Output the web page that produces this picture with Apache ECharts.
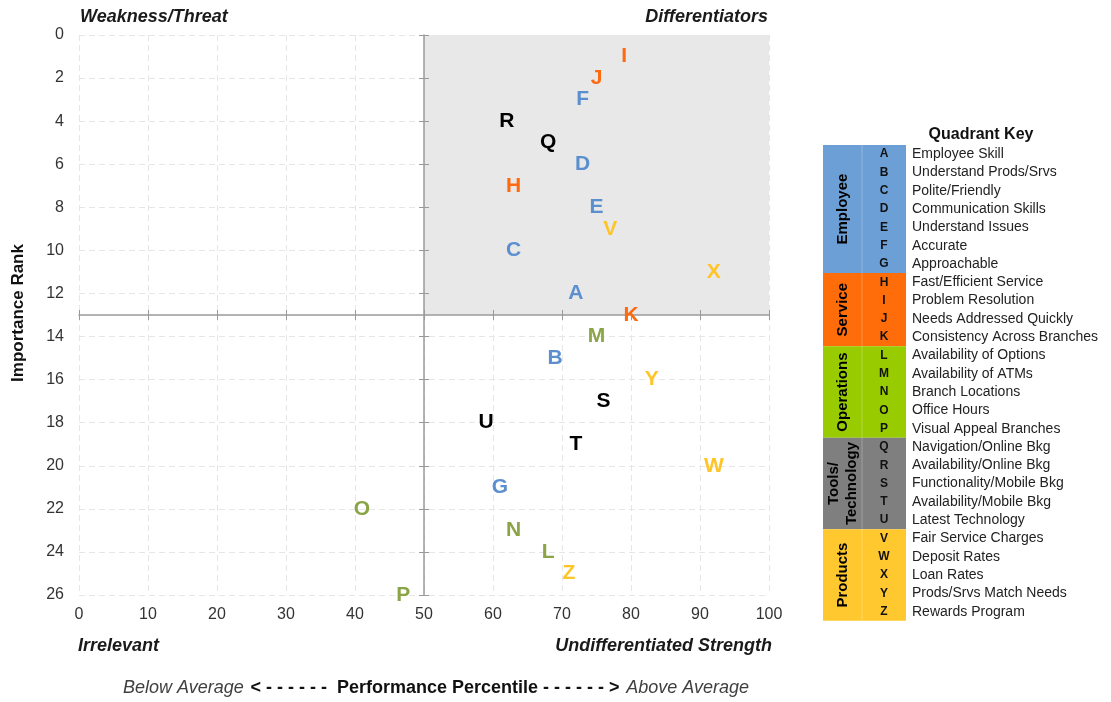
<!DOCTYPE html>
<html><head><meta charset="utf-8">
<script src="https://cdn.jsdelivr.net/npm/echarts@6/dist/echarts.min.js"></script>
<style>html,body{margin:0;padding:0;background:#fff}#c{width:1111px;height:702px}</style>
</head><body><div id="c"></div>
<script>
// ---------- data ----------
const letters = ['A','B','C','D','E','F','G','H','I','J','K','L','M','N','O','P','Q','R','S','T','U','V','W','X','Y','Z'];
const performance = [72,69,63,73,75,73,61,63,79,75,80,68,75,63,41,47,68,62,76,72,59,77,92,92,83,71];
const importance  = [12,15,10,6,8,3,21,7,1,2,13,24,14,23,22,26,5,4,17,19,18,9,20,11,16,25];
const descriptions = ['Employee Skill','Understand Prods/Srvs','Polite/Friendly','Communication Skills','Understand Issues','Accurate','Approachable',
  'Fast/Efficient Service','Problem Resolution','Needs Addressed Quickly','Consistency Across Branches',
  'Availability of Options','Availability of ATMs','Branch Locations','Office Hours','Visual Appeal Branches',
  'Navigation/Online Bkg','Availability/Online Bkg','Functionality/Mobile Bkg','Availability/Mobile Bkg','Latest Technology',
  'Fair Service Charges','Deposit Rates','Loan Rates','Prods/Srvs Match Needs','Rewards Program'];
const groupNames  = ['Employee','Service','Operations','Tools/\nTechnology','Products'];
const groupCounts = [7,4,5,5,5];
const xTicks = [0,10,20,30,40,50,60,70,80,90,100];
const yTicks = [0,2,4,6,8,10,12,14,16,18,20,22,24,26];
const quadrantLabels = ['Weakness/Threat','Differentiators','Irrelevant','Undifferentiated Strength'];

// ---------- styles ----------
const letterColors = ['#5B8FCF','#FF6A10','#8AA446','#000000','#FFC526'];
const fillColors   = ['#6C9FD6','#FF6C0A','#99CC00','#7F7F7F','#FFC82E'];
const FONT = 'Liberation Sans, Arial, sans-serif';
const G = {left:79, top:35, right:769, bottom:595};

const chart = echarts.init(document.getElementById('c'));

const series = [];
let start = 0;
groupCounts.forEach((n, gi) => {
  const data = [];
  for (let i = start; i < start + n; i++) data.push({value:[performance[i], importance[i]], name:letters[i]});
  series.push({
    type:'scatter', data, symbol:'circle', symbolSize:2, itemStyle:{color:'rgba(0,0,0,0)', opacity:1}, clip:false, z:20,
    xAxisIndex:0, yAxisIndex:0, silent:true,
    label:{show:true, position:'inside', formatter:p=>p.name, color:letterColors[gi], opacity:1,
      fontFamily:FONT, fontWeight:'bold', fontSize:21}
  });
  start += n;
});
series.push({
  type:'scatter', data:[], xAxisIndex:0, yAxisIndex:0, z:1,
  markArea:{silent:true, itemStyle:{color:'#E8E8E8'}, data:[[{coord:[50,0]},{coord:[100,13]}]]}
});

// ---------- legend table ----------
const graphics = [];
const rowH = 18.3, tTop = 145, tLeft = 823, c1 = 862, c2 = 906;
graphics.push({type:'text', x:981, y:135, style:{text:'Quadrant Key', font:'bold 16px '+FONT, fill:'#111', textAlign:'center', textVerticalAlign:'middle'}});
start = 0;
groupCounts.forEach((n, gi) => {
  const y0 = tTop + start*rowH, h = n*rowH;
  graphics.push({type:'rect', shape:{x:tLeft, y:y0, width:c2-tLeft, height:h}, style:{fill:fillColors[gi]}});
  graphics.push({type:'line', shape:{x1:c1, y1:y0, x2:c1, y2:y0+h}, style:{stroke:'rgba(255,255,255,0.25)', lineWidth:1}});
  graphics.push({type:'text', x:(tLeft+c1)/2, y:y0+h/2, rotation:Math.PI/2,
    style:{text:groupNames[gi], font:'bold 15px '+FONT, fill:'#000', textAlign:'center', textVerticalAlign:'middle', lineHeight:18}});
  for (let i = start; i < start + n; i++) {
    const yc = tTop + (i+0.5)*rowH;
    graphics.push({type:'text', x:(c1+c2)/2, y:yc, style:{text:letters[i], font:'bold 12px '+FONT, fill:'#111', textAlign:'center', textVerticalAlign:'middle'}});
    graphics.push({type:'text', x:912, y:yc, style:{text:descriptions[i], font:'14px '+FONT, fill:'#222', textAlign:'left', textVerticalAlign:'middle'}});
  }
  start += n;
});

// ---------- quadrant & axis texts ----------
const qFont = 'italic bold 18px '+FONT;
graphics.push({type:'text', x:80, y:17, style:{text:quadrantLabels[0], font:qFont, fill:'#1a1a1a', textAlign:'left', textVerticalAlign:'middle'}});
graphics.push({type:'text', x:768, y:17, style:{text:quadrantLabels[1], font:qFont, fill:'#1a1a1a', textAlign:'right', textVerticalAlign:'middle'}});
graphics.push({type:'text', x:78, y:646, style:{text:quadrantLabels[2], font:qFont, fill:'#1a1a1a', textAlign:'left', textVerticalAlign:'middle'}});
graphics.push({type:'text', x:772, y:646, style:{text:quadrantLabels[3], font:qFont, fill:'#1a1a1a', textAlign:'right', textVerticalAlign:'middle'}});
graphics.push({type:'text', x:18, y:313, rotation:Math.PI/2, style:{text:'Importance Rank', font:'bold 17px '+FONT, fill:'#111', textAlign:'center', textVerticalAlign:'middle'}});
graphics.push({type:'text', x:436, y:688, style:{
  text:'{a|Below Average}  {b|< - - - - - -  Performance Percentile - - - - - - >}  {a|Above Average}',
  textAlign:'center', textVerticalAlign:'middle',
  rich:{a:{font:'italic 18px '+FONT, fill:'#404040'}, b:{font:'bold 18px '+FONT, fill:'#111'}}
}});

function quadAxis(inside, showLine) {
  return {
    axisLine:{show:showLine, onZero:false, lineStyle:{color:'#9A9A9A', width:1.5}},
    axisTick:{show:true, inside:inside, length:5, lineStyle:{color:'#9A9A9A', width:1}},
    axisLabel:{show:true, color:'rgba(0,0,0,0)', fontSize:10},
    splitLine:{show:false}, z:10
  };
}
const xBase = {type:'value', min:xTicks[0], max:xTicks[xTicks.length-1], interval:10, position:'bottom', offset:-280};
const yBase = {type:'value', inverse:true, min:yTicks[0], max:yTicks[yTicks.length-1], interval:2, position:'left', offset:-345};

const option = {
  animation:false,
  grid:{left:G.left, top:G.top, width:G.right-G.left, height:G.bottom-G.top},
  xAxis:[
    {type:'value', min:xTicks[0], max:xTicks[xTicks.length-1], interval:10, position:'bottom',
     axisLine:{show:false}, axisTick:{show:false},
     axisLabel:{color:'#333', fontFamily:FONT, fontSize:16, margin:12},
     splitLine:{show:true, lineStyle:{color:'#E6E6E6', type:[6,4], width:1}}},
    Object.assign({}, xBase, quadAxis(false, true)),
    Object.assign({}, xBase, quadAxis(true, false))
  ],
  yAxis:[
    {type:'value', inverse:true, min:yTicks[0], max:yTicks[yTicks.length-1], interval:2, position:'left',
     axisLine:{show:false}, axisTick:{show:false},
     axisLabel:{color:'#333', fontFamily:FONT, fontSize:16, margin:15},
     splitLine:{show:true, lineStyle:{color:'#E6E6E6', type:[6,4], width:1}}},
    Object.assign({}, yBase, quadAxis(false, true)),
    Object.assign({}, yBase, quadAxis(true, false))
  ],
  series,
  graphic:graphics
};
chart.setOption(option);
</script></body></html>
